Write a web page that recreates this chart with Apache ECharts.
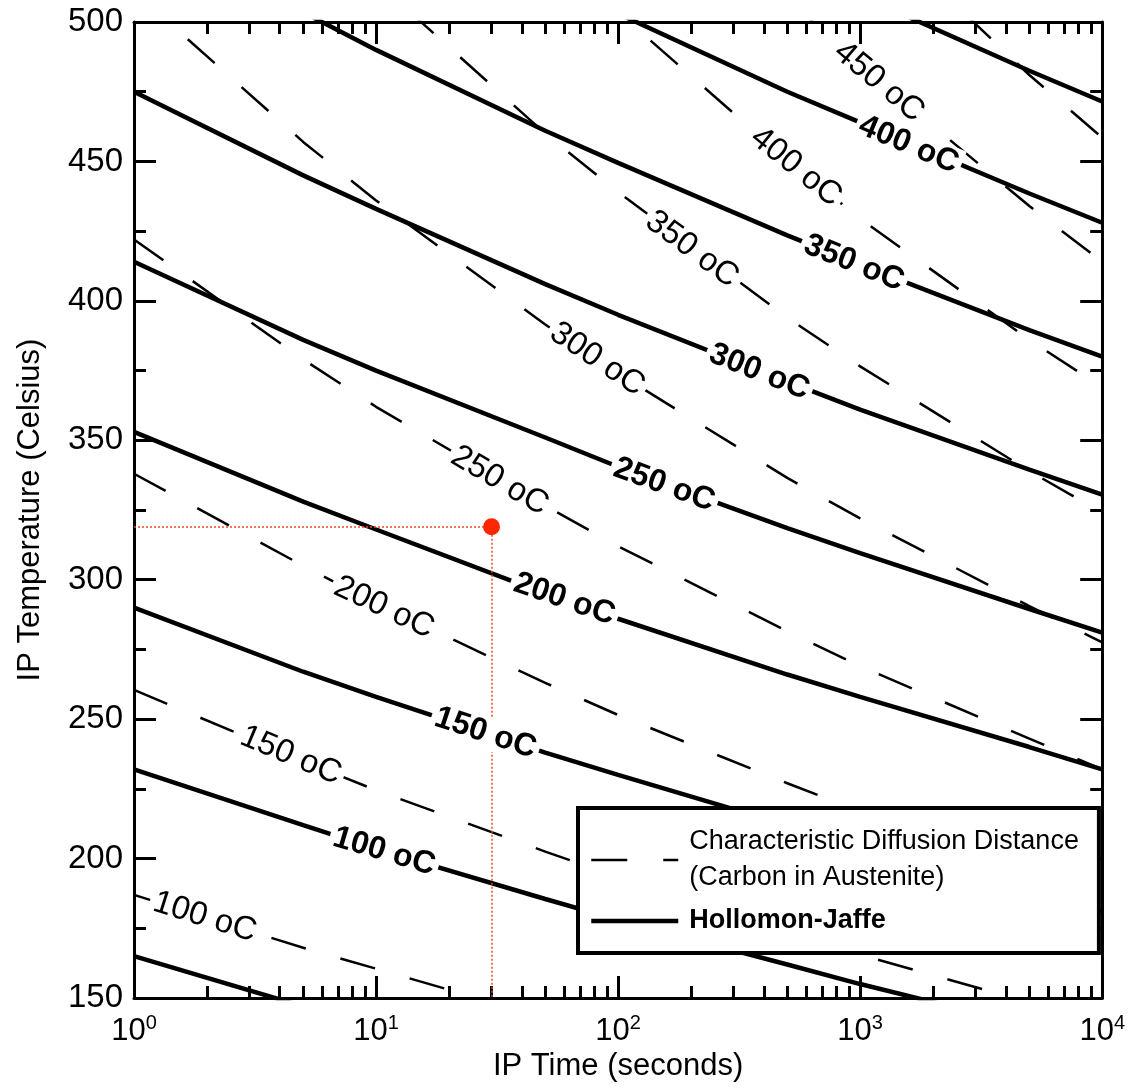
<!DOCTYPE html>
<html>
<head>
<meta charset="utf-8">
<script src="https://cdn.jsdelivr.net/npm/echarts@6/dist/echarts.min.js"></script>
<style>
  html, body { margin: 0; padding: 0; background: #fff; }
  #chart { width: 1128px; height: 1089px; }
</style>
</head>
<body>
<div id="chart"></div>
<script>
// IP holding times (s) at which every curve is sampled
const times = [1, 5, 10, 50, 100, 500, 1000, 5000, 10000];

// Hollomon-Jaffe iso-parameter curves: IP temperature (°C) at each time (null = off the chart)
const hj50  = [165, 147, null, null, null, null, null, null, null];
const hj100 = [232, 212, 203.5, 185.5, 178, 162, 155, 140, null];
const hj150 = [290, 267, 258, 238, 230, 212, 204, 188, 181];
const hj200 = [353, 328, 318, 295, 286, 266, 258, 240, 232];
const hj250 = [414, 386, 375, 351, 340.5, 318.5, 309.5, 289.5, 281];
const hj300 = [475, 445, 433, 406, 395, 371, 361, 339.5, 330.5];
const hj350 = [536, 503.5, 490, 461, 449.5, 423.5, 413, 389.5, 380];
const hj400 = [null, null, null, 516, 503, 475, 464, 438.5, 428];
const hj450 = [null, null, null, null, null, 521.5, 509.5, 482.5, 471.5];

// Equal characteristic diffusion distance of carbon in austenite: IP temperature (°C) at each time
const dd100 = [187, 168, 160.5, 143, null, null, null, null, null];
const dd150 = [260.5, 235, 224.5, 202.5, 193.5, 173.5, 165.5, 148.5, null];
const dd200 = [338, 305, 291.5, 263, 251.5, 227, 217, 195.5, 186.5];
const dd250 = [422, 379, 362, 326.5, 312, 281.5, 269, 243, 232];
const dd300 = [511, 457, 436, 391.5, 374, 336.5, 322, 290.5, 277.5];
const dd350 = [null, 540.5, 514.5, 460, 439, 394, 376.5, 339, 324];
const dd400 = [null, null, null, 528.5, 503.5, 450.5, 429.5, 386, 369];
const dd450 = [null, null, null, null, null, 508.5, 484.5, 434, 414];
const dd500 = [null, null, null, null, null, null, 538.5, 481, 458.5];

const hjCurves = [hj50, hj100, hj150, hj200, hj250, hj300, hj350, hj400, hj450];
const ddCurves = [dd100, dd150, dd200, dd250, dd300, dd350, dd400, dd450, dd500];

// In-line curve labels: text, anchor time (s), anchor temperature (°C), curve index
const hjLabelText  = ['100 oC', '150 oC', '200 oC', '250 oC', '300 oC', '350 oC', '400 oC'];
const hjLabelTime  = [10.8, 28.3, 60, 155, 383, 942, 1585];
const hjLabelTemp  = [202.5, 245, 293, 334, 374.5, 413.5, 456];
const hjLabelCurve = [1, 2, 3, 4, 5, 6, 7];

const ddLabelText  = ['100 oC', '150 oC', '200 oC', '250 oC', '300 oC', '350 oC', '400 oC', '450 oC'];
const ddLabelTime  = [1.96, 4.44, 10.8, 32.4, 82, 202, 543, 1197];
const ddLabelTemp  = [179, 237, 290, 335.5, 379, 418.5, 448, 478.5];
const ddLabelCurve = [0, 1, 2, 3, 4, 5, 6, 7];

// Chosen IP condition: [time (s), temperature (°C)]
const ipPoint = [30, 319];

// Axis ranges and tick values
const timeRange = [1, 10000];
const tempRange = [150, 500];
const tempStep = 50;
const minorTimes = [];
for (let d = 1; d < 10000; d *= 10) {
  for (let m = 2; m <= 9; m++) minorTimes.push(m * d);
}

const FONT = "'Liberation Sans', Arial, Helvetica, sans-serif";
const DD_NAME = 'Characteristic Diffusion Distance';
const HJ_NAME = 'Hollomon-Jaffe';
const DD_LINE = { color: '#000', width: 2.5, type: [36, 36] };
const HJ_LINE = { color: '#000', width: 4.5, type: 'solid' };

const chart = echarts.init(document.getElementById('chart'), null, { renderer: 'canvas' });

function toPairs(vals) {
  const out = [];
  vals.forEach((v, i) => { if (v !== null) out.push([times[i], v]); });
  return out;
}

const axisLineStyle = { color: '#000', width: 3 };

function timeAxis(position, withLabels) {
  return {
    type: 'log', logBase: 10, min: timeRange[0], max: timeRange[1], position: position,
    axisLine: { show: true, onZero: false, lineStyle: axisLineStyle },
    axisTick: { show: true, inside: true, length: 22, lineStyle: axisLineStyle },
    splitLine: { show: false },
    minorTick: { show: false },
    axisLabel: withLabels ? {
      margin: 15,
      formatter: v => '{b|10}{s|' + Math.round(Math.log10(v)) + '}',
      rich: {
        b: { fontSize: 31, fontFamily: FONT, color: '#000', lineHeight: 36 },
        s: { fontSize: 20, fontFamily: FONT, color: '#000', lineHeight: 22, verticalAlign: 'top' }
      }
    } : { show: false },
    name: withLabels ? 'IP Time (seconds)' : '',
    nameLocation: 'middle', nameGap: 52,
    nameTextStyle: { fontSize: 31, fontFamily: FONT, color: '#000' }
  };
}

function minorTimeAxis(position) {
  return {
    type: 'log', logBase: 10, min: timeRange[0], max: timeRange[1], position: position,
    axisLine: { show: false },
    axisTick: { show: true, inside: true, length: 12, customValues: minorTimes, lineStyle: axisLineStyle },
    axisLabel: { show: false },
    splitLine: { show: false }
  };
}

function tempAxis(position, withLabels) {
  return {
    type: 'value', min: tempRange[0], max: tempRange[1], interval: tempStep, position: position,
    axisLine: { show: true, onZero: false, lineStyle: axisLineStyle },
    axisTick: { show: true, inside: true, length: 22, lineStyle: axisLineStyle },
    minorTick: { show: true, splitNumber: 2, length: 12, lineStyle: axisLineStyle },
    splitLine: { show: false },
    minorSplitLine: { show: false },
    axisLabel: withLabels ? { fontSize: 33, fontFamily: FONT, color: '#000', margin: 11 } : { show: false },
    name: withLabels ? 'IP Temperature (Celsius)' : '',
    nameLocation: 'middle', nameRotate: 90, nameGap: 88,
    nameTextStyle: { fontSize: 31, fontFamily: FONT, color: '#000' }
  };
}

const series = [];
ddCurves.forEach(c => series.push({
  type: 'line', name: DD_NAME, data: toPairs(c), symbol: 'none', silent: true, z: 3,
  itemStyle: { color: '#000' }, lineStyle: DD_LINE
}));
hjCurves.forEach(c => series.push({
  type: 'line', name: HJ_NAME, data: toPairs(c), symbol: 'none', silent: true, z: 4,
  itemStyle: { color: '#000' }, lineStyle: HJ_LINE
}));
series.push({
  type: 'scatter', name: 'IP', data: [ipPoint], symbol: 'circle', symbolSize: 17, z: 6, silent: true,
  itemStyle: { color: '#ff2600', opacity: 1 },
  markLine: {
    silent: true, symbol: ['none', 'none'], label: { show: false }, animation: false,
    lineStyle: { color: '#ee4430', width: 1.5, type: [2, 2] },
    data: [
      [{ coord: [timeRange[0], ipPoint[1]] }, { coord: ipPoint }],
      [{ coord: ipPoint }, { coord: [ipPoint[0], tempRange[0]] }]
    ]
  }
});

chart.setOption({
  animation: false,
  backgroundColor: '#fff',
  grid: { left: 134, right: 24, top: 22, bottom: 91 },
  xAxis: [timeAxis('bottom', true), timeAxis('top', false), minorTimeAxis('bottom'), minorTimeAxis('top')],
  yAxis: [tempAxis('left', true), tempAxis('right', false)],
  legend: {
    z: 30, left: 578, top: 808, orient: 'vertical', selectedMode: false,
    backgroundColor: '#fff', borderColor: '#000', borderWidth: 4, borderRadius: 0,
    padding: [16, 20, 14, 11], itemGap: 7, itemWidth: 87, itemHeight: 14,
    itemStyle: { opacity: 0 },
    data: [
      { name: DD_NAME, textStyle: { fontWeight: 'normal' }, lineStyle: DD_LINE },
      { name: HJ_NAME, textStyle: { fontWeight: 'bold' }, lineStyle: HJ_LINE }
    ],
    formatter: n => n === DD_NAME ? n + '\n(Carbon in Austenite)' : n,
    textStyle: { fontSize: 27, fontFamily: FONT, color: '#000', lineHeight: 36, padding: [0, 0, 0, 6] }
  },
  series: series
});

// Rotate each in-line label to follow the local direction of its curve
function angleAt(vals, t) {
  let i = 0;
  while (i < times.length - 2 && times[i + 1] < t) i++;
  const a = chart.convertToPixel({ xAxisIndex: 0, yAxisIndex: 0 }, [times[i], vals[i]]);
  const b = chart.convertToPixel({ xAxisIndex: 0, yAxisIndex: 0 }, [times[i + 1], vals[i + 1]]);
  return -Math.atan2(b[1] - a[1], b[0] - a[0]) * 180 / Math.PI;
}

function labelSeries(texts, tArr, TArr, curveIdx, curves, bold) {
  return {
    type: 'scatter', symbolSize: 1, silent: true, z: 8,
    itemStyle: { color: 'rgba(255,255,255,0)', opacity: 1 },
    data: texts.map((txt, k) => ({
      value: [tArr[k], TArr[k]],
      label: { rotate: angleAt(curves[curveIdx[k]], tArr[k]) }
    })),
    label: {
      show: true, position: 'inside', color: '#000', opacity: 1, fontFamily: FONT,
      fontSize: bold ? 32 : 33, fontWeight: bold ? 'bold' : 'normal',
      backgroundColor: '#fff', padding: [0, 4], textBorderWidth: 0,
      formatter: p => texts[p.dataIndex]
    }
  };
}

chart.setOption({
  series: series.concat([
    labelSeries(ddLabelText, ddLabelTime, ddLabelTemp, ddLabelCurve, ddCurves, false),
    labelSeries(hjLabelText, hjLabelTime, hjLabelTemp, hjLabelCurve, hjCurves, true)
  ])
});
</script>
</body>
</html>
